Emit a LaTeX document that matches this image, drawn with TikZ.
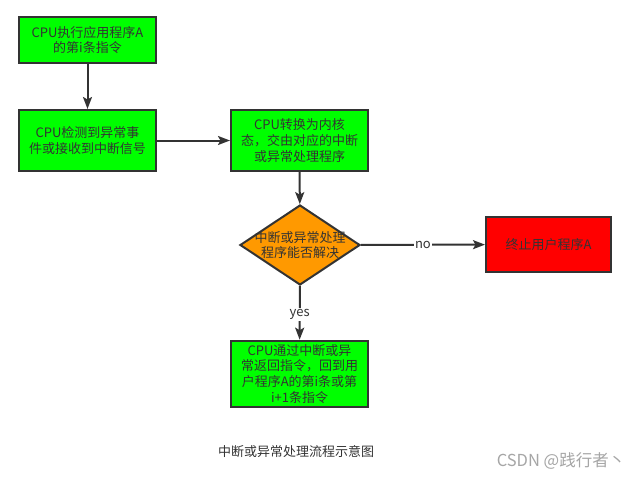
\documentclass[tikz,border=0pt]{standalone}
\usepackage{fontspec}
\setmainfont{Noto Sans CJK SC}
\usetikzlibrary{shapes.geometric,arrows.meta}
\definecolor{boxgreen}{HTML}{00FF00}
\definecolor{boxorange}{HTML}{FF9900}
\definecolor{boxred}{HTML}{FF0000}
\definecolor{edge}{HTML}{333333}
\definecolor{txt}{HTML}{333333}
\tikzset{
  box/.style={draw=edge, line width=2pt, inner sep=0pt, align=center,
    text=txt, font=\fontsize{13}{15.6}\selectfont},
  conn/.style={draw=edge, line width=2pt, -{Stealth[length=12pt,width=9pt,inset=2.5pt]}},
  lbl/.style={fill=white, inner sep=1pt, text=txt, font=\fontsize{13}{15}\selectfont}
}
\begin{document}
\begin{tikzpicture}[x=1pt,y=-1pt]
\useasboundingbox[fill=white] (0,0) rectangle (640,480);
\node[box, fill=boxgreen, minimum width=137, minimum height=46] (a) at (87.5,40) {CPU执行应用程序A\\的第i条指令};
\node[box, fill=boxgreen, minimum width=137, minimum height=61] (b) at (87.5,140.5) {CPU检测到异常事\\件或接收到中断信号};
\node[box, fill=boxgreen, minimum width=137, minimum height=61] (c) at (299.5,140.5) {CPU转换为内核\\态，交由对应的中断\\或异常处理程序};
\node[draw=edge, line width=2pt, fill=boxorange, diamond, minimum width=120, minimum height=80, inner sep=0pt] (d) at (300,245) {};
\node[align=center, text=txt, font=\fontsize{13}{15.6}\selectfont] (dt) at (d.center) {中断或异常处理\\程序能否解决};
\node[box, fill=boxred, minimum width=125, minimum height=55] (e) at (548.5,244.5) {终止用户程序A};
\node[box, fill=boxgreen, minimum width=137, minimum height=66] (f) at (299.5,373.7) {CPU通过中断或异\\常返回指令，回到用\\户程序A的第i条或第\\i+1条指令};
\draw[conn] (a) -- (b);
\draw[conn] (b) -- (c);
\draw[conn] (c) -- (d);
\draw[conn] (d) -- node[lbl, pos=0.5] (no) {no} (e);
\draw[conn] (d) -- node[lbl, pos=0.53] (yes) {yes} (f);
\node[text=txt, font=\fontsize{13}{15}\selectfont] (cap) at (296,452) {中断或异常处理流程示意图};
\node[text=black!35, font=\fontsize{16.5}{18}\selectfont] (wm) at (561,461) {CSDN @践行者丶};
\end{tikzpicture}
\end{document}
